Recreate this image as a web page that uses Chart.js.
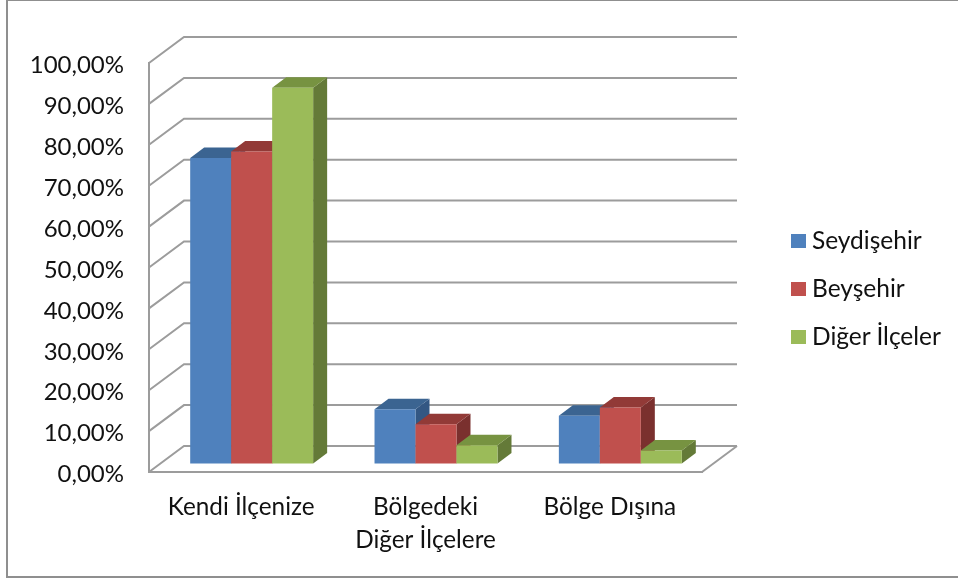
<!DOCTYPE html>
<html>
<head>
<meta charset="utf-8">
<style>
  html, body { margin: 0; padding: 0; background: #fff; overflow: hidden; }
  #kutu { position: relative; width: 958px; height: 578px; overflow: hidden; filter: blur(0.35px); }
  #lienzo { position: absolute; left: 0; top: 0; }
  #cerceve { position: absolute; left: 6px; top: 0; width: 980px; height: 575px; border: 2px solid #8f8f8f; border-top-width: 1px; box-sizing: content-box; }
  #leyenda { position: absolute; left: 791px; top: 216px; font: 24.5px Lato, sans-serif; color: #111; }
  #leyenda div { position: relative; height: 48px; line-height: 48px; padding-left: 21px; white-space: nowrap; }
  #leyenda span { position: absolute; left: 0; top: 18px; width: 15px; height: 14px; }
</style>
<script src="https://cdn.jsdelivr.net/npm/chart.js@4/dist/chart.umd.min.js"></script>
</head>
<body>
<div id="kutu">
  <div id="cerceve"></div>
  <canvas id="lienzo" width="958" height="578"></canvas>
  <div id="leyenda"></div>
</div>
<script>
const categories = ["Kendi İlçenize", ["Bölgedeki", "Diğer İlçelere"], "Bölge Dışına"]
const seydisehir = [74.8, 13.4, 11.8]
const beysehir = [76.4, 9.7, 13.8]
const digerIlceler = [92, 4.6, 3.3]

const colores = ["#4F81BD", "#C0504D", "#9BBB59"]
const coloresArriba = ["#3B6491", "#923A37", "#779341"]
const coloresLado = ["#335783", "#7A302E", "#647A38"]
const colorLinea = "#9c9c9c"

// profundidad de la pared y de las barras
const paredX = 35, paredY = 26
const barraX = 14, barraY = 10.5
const movX = 10.5, movY = 8

const pseudo3d = {
    id: "pseudo3d",
    beforeDatasetsDraw(chart) {
        const ctx = chart.ctx
        const y = chart.scales.y
        const area = chart.chartArea
        ctx.save()
        ctx.strokeStyle = colorLinea
        ctx.lineWidth = 2
        for (let tick of y.ticks) {
            let py = y.getPixelForValue(tick.value)
            ctx.beginPath()
            ctx.moveTo(area.left, py)
            ctx.lineTo(area.left + paredX, py - paredY)
            ctx.lineTo(area.right + paredX, py - paredY)
            ctx.stroke()
        }
        // piso
        ctx.beginPath()
        ctx.moveTo(area.right, area.bottom)
        ctx.lineTo(area.right + paredX, area.bottom - paredY)
        ctx.stroke()
        ctx.translate(movX, -movY)
        // de izquierda a derecha, cada serie tapa el lado de la anterior
        chart.data.datasets.forEach((d, i) => {
            let meta = chart.getDatasetMeta(i)
            for (let bar of meta.data) {
                let izq = bar.x - bar.width / 2
                let der = bar.x + bar.width / 2
                ctx.fillStyle = coloresLado[i]
                ctx.beginPath()
                ctx.moveTo(der, bar.base)
                ctx.lineTo(der + barraX, bar.base - barraY)
                ctx.lineTo(der + barraX, bar.y - barraY)
                ctx.lineTo(der, bar.y)
                ctx.closePath()
                ctx.fill()
                ctx.fillStyle = coloresArriba[i]
                ctx.beginPath()
                ctx.moveTo(izq, bar.y)
                ctx.lineTo(izq + barraX, bar.y - barraY)
                ctx.lineTo(der + barraX, bar.y - barraY)
                ctx.lineTo(der, bar.y)
                ctx.closePath()
                ctx.fill()
            }
            meta.controller.draw()
        })
        ctx.restore()
        return false
    }
}

const fuente = "Lato"

const grafico = new Chart(document.getElementById("lienzo"), {
    type: "bar",
    data: {
        labels: categories,
        datasets: [
            { label: "Seydişehir", data: seydisehir, backgroundColor: colores[0] },
            { label: "Beyşehir", data: beysehir, backgroundColor: colores[1] },
            { label: "Diğer İlçeler", data: digerIlceler, backgroundColor: colores[2] }
        ]
    },
    options: {
        responsive: false,
        animation: false,
        devicePixelRatio: 1,
        categoryPercentage: 0.667,
        barPercentage: 1,
        layout: { padding: { top: 63, bottom: 0, left: 0, right: 256 } },
        plugins: {
            tooltip: { enabled: false },
            legend: { display: false }
        },
        scales: {
            x: {
                afterFit(s) { s.height = 106 },
                grid: { display: false },
                border: { display: true, color: colorLinea, width: 2 },
                ticks: {
                    color: "#111",
                    padding: 11,
                    maxRotation: 0,
                    font: { family: fuente, size: 24.3, lineHeight: 1.36 }
                }
            },
            y: {
                min: 0,
                max: 100,
                afterFit(s) { s.width = 149 },
                grid: { drawOnChartArea: false, drawTicks: false },
                border: { display: true, color: colorLinea, width: 2 },
                ticks: {
                    stepSize: 10,
                    color: "#111",
                    padding: 25,
                    labelOffset: 2.5,
                    font: { family: fuente, size: 24 },
                    callback: v => v.toFixed(2).replace(".", ",") + "%"
                }
            }
        }
    },
    plugins: [pseudo3d]
})

// leyenda a la derecha, sale de los datasets
const leyenda = document.getElementById("leyenda")
grafico.data.datasets.forEach(d => {
    let fila = document.createElement("div")
    let cuadro = document.createElement("span")
    cuadro.style.background = d.backgroundColor
    fila.appendChild(cuadro)
    fila.appendChild(document.createTextNode(d.label))
    leyenda.appendChild(fila)
})
</script>
</body>
</html>
